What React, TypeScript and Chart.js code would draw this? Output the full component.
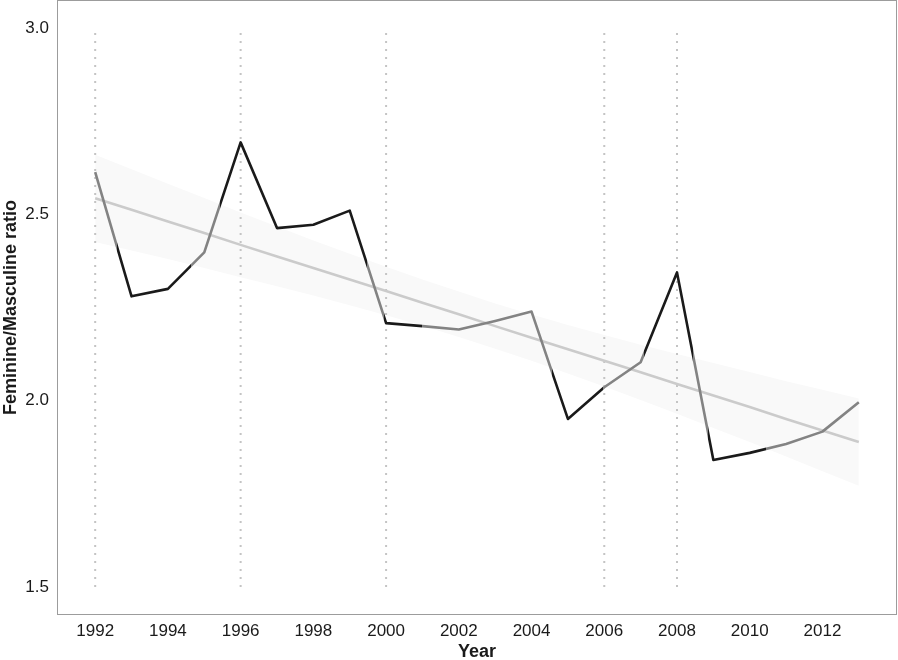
import React, { useEffect, useRef } from "react";
import { Chart, registerables } from "chart.js";

Chart.register(...registerables);

const years = [1992, 1993, 1994, 1995, 1996, 1997, 1998, 1999, 2000, 2001, 2002, 2003, 2004, 2005, 2006, 2007, 2008, 2009, 2010, 2011, 2012, 2013];
const ratio = [2.613, 2.280, 2.300, 2.398, 2.693, 2.463, 2.472, 2.510, 2.208, 2.200, 2.191, 2.214, 2.239, 1.951, 2.036, 2.103, 2.344, 1.841, 1.860, 1.884, 1.917, 1.996];
const fitValues = [2.543, 2.512, 2.481, 2.450, 2.418, 2.387, 2.356, 2.325, 2.294, 2.263, 2.232, 2.200, 2.169, 2.138, 2.107, 2.076, 2.045, 2.014, 1.983, 1.951, 1.920, 1.889];
const bandUpper = [2.660, 2.621, 2.582, 2.544, 2.505, 2.467, 2.430, 2.394, 2.359, 2.325, 2.293, 2.261, 2.231, 2.203, 2.176, 2.150, 2.125, 2.101, 2.077, 2.052, 2.029, 2.006];
const bandLower = [2.426, 2.403, 2.380, 2.356, 2.331, 2.307, 2.282, 2.256, 2.229, 2.201, 2.171, 2.139, 2.107, 2.073, 2.038, 2.002, 1.965, 1.927, 1.889, 1.850, 1.811, 1.772];
const markerYears = [1992, 1996, 2000, 2006, 2008];
const markerRange = [1.5, 3.0];
// x positions (years) where the line switches shade, starting with grey
const shadeBreaks = [1992.6, 1994.63, 1995.43, 1999.48, 1999.95, 2001.0, 2004.56, 2005.97, 2007.1, 2008.43, 2008.85, 2010.45];
const xTickLabels = [1992, 1994, 1996, 1998, 2000, 2002, 2004, 2006, 2008, 2010, 2012];
const yTickLabels = [1.5, 2.0, 2.5, 3.0];

const DARK = "#1a1a1a";
const GREY = "#838383";

const FONT = "'Liberation Sans', Arial, Helvetica, sans-serif";

export default function App() {
  const ref = useRef<HTMLCanvasElement>(null);

  useEffect(() => {
    document.body.style.margin = "0";
    const canvas = ref.current;
    if (!canvas) return;

    const pts = (ys: number[]) => years.map((x, i) => ({ x, y: ys[i] }));

    const shadeColor = (ctx: any) => {
      const chart = ctx.chart;
      const area = chart.chartArea;
      if (!area) return DARK;
      const xs = chart.scales.x;
      const x0 = xs.getPixelForValue(years[0]);
      const x1 = xs.getPixelForValue(years[years.length - 1]);
      const g = chart.ctx.createLinearGradient(x0, 0, x1, 0);
      const span = years[years.length - 1] - years[0];
      let cur = GREY;
      g.addColorStop(0, cur);
      shadeBreaks.forEach((b) => {
        const p = Math.min(1, Math.max(0, (b - years[0]) / span));
        g.addColorStop(p, cur);
        cur = cur === GREY ? DARK : GREY;
        g.addColorStop(p, cur);
      });
      g.addColorStop(1, cur);
      return g;
    };

    const datasets: any[] = [
      {
        label: "upper",
        data: pts(bandUpper),
        borderWidth: 0,
        pointRadius: 0,
        backgroundColor: "#f9f9f9",
        fill: "+1",
        order: 10,
      },
      {
        label: "lower",
        data: pts(bandLower),
        borderWidth: 0,
        pointRadius: 0,
        fill: false,
        order: 11,
      },
      ...markerYears.map((yr) => ({
        label: "m" + yr,
        data: markerRange.map((y) => ({ x: yr, y })),
        borderColor: "#c4c4c4",
        borderWidth: 2,
        borderDash: [2, 6],
        pointRadius: 0,
        fill: false,
        order: 5,
      })),
      {
        label: "fit",
        data: pts(fitValues),
        borderColor: "#cbcbcb",
        borderWidth: 2.6,
        pointRadius: 0,
        fill: false,
        order: 2,
      },
      {
        label: "ratio",
        data: pts(ratio),
        borderColor: shadeColor,
        borderWidth: 2.6,
        borderJoinStyle: "round",
        borderCapStyle: "butt",
        pointRadius: 0,
        fill: false,
        order: 0,
      },
    ];

    const frame = {
      id: "frame",
      afterDraw(chart: any) {
        const { ctx, chartArea } = chart;
        ctx.save();
        ctx.strokeStyle = "#9c9c9c";
        ctx.lineWidth = 1;
        ctx.strokeRect(chartArea.left + 0.5, chartArea.top + 0.5, chartArea.right - chartArea.left - 1, chartArea.bottom - chartArea.top - 1);
        ctx.restore();
      },
    };

    const chart = new Chart(canvas, {
      type: "line",
      data: { datasets },
      plugins: [frame],
      options: {
        animation: false,
        responsive: false,
        layout: { padding: { top: 0, right: 1, left: 0, bottom: 0 } },
        plugins: {
          legend: { display: false },
          tooltip: { enabled: false },
        },
        elements: { line: { tension: 0 } },
        scales: {
          x: {
            type: "linear",
            min: 1990.95,
            max: 2014.05,
            grid: { display: false, drawTicks: false },
            border: { display: false },
            afterBuildTicks: (s: any) => {
              s.ticks = xTickLabels.map((v) => ({ value: v }));
            },
            afterFit: (s: any) => {
              s.height = 45;
              s.paddingLeft = 0;
              s.paddingRight = 0;
            },
            ticks: {
              autoSkip: false,
              maxRotation: 0,
              padding: 6,
              color: "#1a1a1a",
              font: { family: FONT, size: 17 },
              callback: (v: any) => String(v),
            },
            title: {
              display: true,
              text: "Year",
              color: "#1a1a1a",
              padding: { top: 0, bottom: -3 },
              font: { family: FONT, size: 18, weight: "bold" },
            },
          },
          y: {
            type: "linear",
            min: 1.425,
            max: 3.075,
            grid: { display: false, drawTicks: false },
            border: { display: false },
            afterBuildTicks: (s: any) => {
              s.ticks = yTickLabels.map((v) => ({ value: v }));
            },
            afterFit: (s: any) => {
              s.width = 57;
              s.paddingTop = 0;
              s.paddingBottom = 0;
            },
            ticks: {
              padding: 8,
              color: "#1a1a1a",
              font: { family: FONT, size: 17 },
              callback: (v: any) => Number(v).toFixed(1),
            },
            title: {
              display: true,
              text: "Feminine/Masculine ratio",
              color: "#1a1a1a",
              padding: { top: 0, bottom: 0 },
              font: { family: FONT, size: 18, weight: "bold" },
            },
          },
        },
      } as any,
    });

    return () => chart.destroy();
  }, []);

  return <canvas ref={ref} width={898} height={660} style={{ display: "block" }} />;
}
